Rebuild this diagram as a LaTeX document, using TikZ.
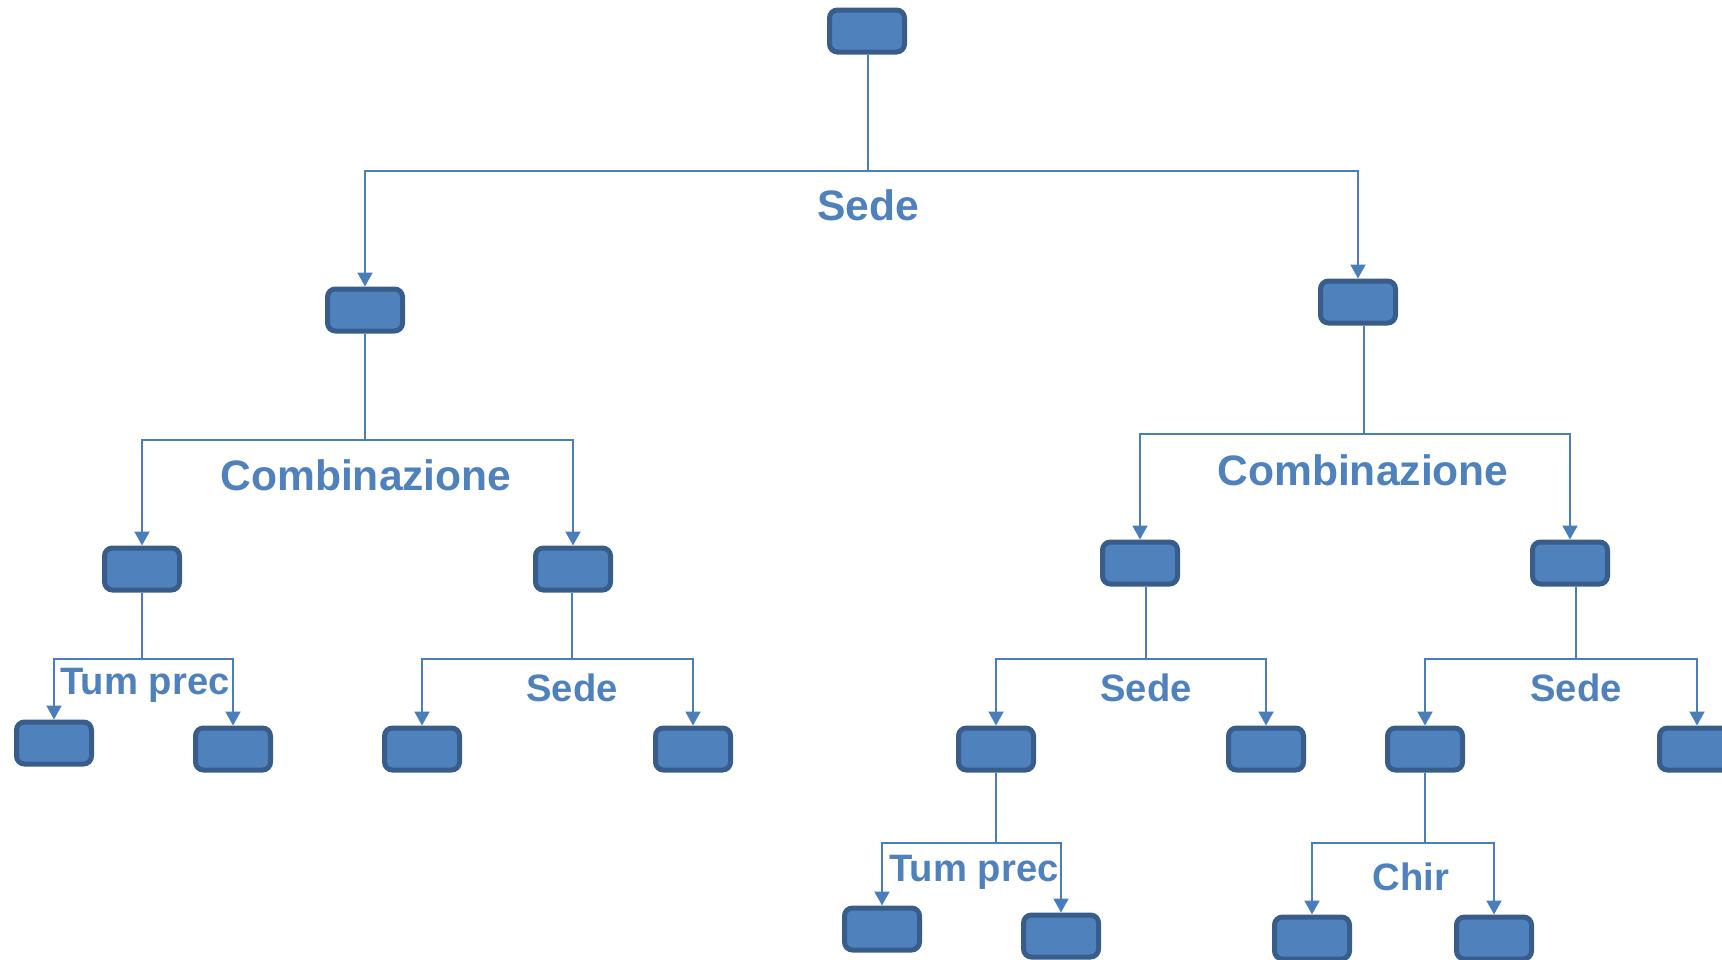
\documentclass[tikz,border=0pt]{standalone}
\usepackage{fontspec}
\setmainfont{Liberation Sans}
\usetikzlibrary{arrows.meta}
\definecolor{boxfill}{HTML}{4F81BD}
\definecolor{boxedge}{HTML}{385D8A}
\definecolor{linkc}{HTML}{4A7EBB}
\begin{document}
\begin{tikzpicture}[x=1pt,y=-1pt,
 box/.style={draw=boxedge,fill=boxfill,line width=5pt,rounded corners=8pt,minimum width=75pt,minimum height=42pt,inner sep=0pt},
 link/.style={draw=linkc,line width=2pt},
 arr/.style={link,-{Triangle[length=14pt,width=15pt]}},
 biglab/.style={text=boxfill,font=\fontsize{42.6}{43}\selectfont\bfseries,anchor=base,inner sep=0pt},
 smalllab/.style={text=boxfill,font=\fontsize{38.2}{38}\selectfont\bfseries,anchor=base,inner sep=0pt}]
\useasboundingbox (0,0) rectangle (1722,959);
\clip (0,0) rectangle (1722,959);
% nodes
\node[box] (top) at (867,31) {};
\node[box] (L) at (365,310) {};
\node[box] (R) at (1358,302) {};
\node[box] (LL) at (142,569) {};
\node[box] (LR) at (573,569) {};
\node[box] (RL) at (1140,563) {};
\node[box] (RR) at (1570,563) {};
\node[box] (LLL) at (54,743) {};
\node[box] (LLR) at (233,749) {};
\node[box] (LRL) at (422,749) {};
\node[box] (LRR) at (693,749) {};
\node[box] (RLL) at (996,749) {};
\node[box] (RLR) at (1266,749) {};
\node[box] (RRL) at (1425,749) {};
\node[box] (RRR) at (1697,749) {};
\node[box] (RLLL) at (882,929) {};
\node[box] (RLLR) at (1061,936) {};
\node[box] (RRLL) at (1312,938) {};
\node[box] (RRLR) at (1494,938) {};
% junctions
\coordinate (jTop) at (868,171);
\coordinate (jL) at (365,440);
\coordinate (jR) at (1364,434);
\coordinate (jLL) at (142,659);
\coordinate (jLR) at (572,659);
\coordinate (jRL) at (1146,659);
\coordinate (jRR) at (1576,659);
\coordinate (jRLL) at (996,843);
\coordinate (jRRL) at (1425,843);
% connectors
\draw[link] (jTop |- top.south) -- (jTop);
\draw[arr] (jTop) -| (L.north);
\draw[arr] (jTop) -| (R.north);
\draw[link] (jL |- L.south) -- (jL);
\draw[arr] (jL) -| (LL.north);
\draw[arr] (jL) -| (LR.north);
\draw[link] (jR |- R.south) -- (jR);
\draw[arr] (jR) -| (RL.north);
\draw[arr] (jR) -| (RR.north);
\draw[link] (jLL |- LL.south) -- (jLL);
\draw[arr] (jLL) -| (LLL.north);
\draw[arr] (jLL) -| (LLR.north);
\draw[link] (jLR |- LR.south) -- (jLR);
\draw[arr] (jLR) -| (LRL.north);
\draw[arr] (jLR) -| (LRR.north);
\draw[link] (jRL |- RL.south) -- (jRL);
\draw[arr] (jRL) -| (RLL.north);
\draw[arr] (jRL) -| (RLR.north);
\draw[link] (jRR |- RR.south) -- (jRR);
\draw[arr] (jRR) -| (RRL.north);
\draw[arr] (jRR) -| (RRR.north);
\draw[link] (jRLL |- RLL.south) -- (jRLL);
\draw[arr] (jRLL) -| (RLLL.north);
\draw[arr] (jRLL) -| (RLLR.north);
\draw[link] (jRRL |- RRL.south) -- (jRRL);
\draw[arr] (jRRL) -| (RRLL.north);
\draw[arr] (jRRL) -| (RRLR.north);
% labels
\node[biglab] (s0) at (868,220) {Sede};
\node[biglab] (c1) at (366,490) {Combinazione};
\node[biglab] (c2) at (1363,485) {Combinazione};
\node[smalllab] (t1) at (145,694) {Tum prec};
\node[smalllab] (s1) at (572,701) {Sede};
\node[smalllab] (s2) at (1146,701) {Sede};
\node[smalllab] (s3) at (1576,701) {Sede};
\node[smalllab] (t2) at (974,881) {Tum prec};
\node[smalllab] (ch) at (1411,890) {Chir};
\end{tikzpicture}
\end{document}
